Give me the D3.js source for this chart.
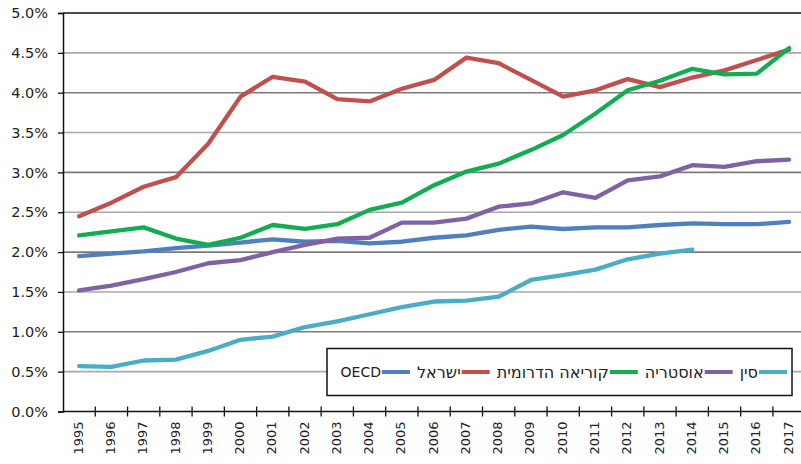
<!DOCTYPE html>
<html>
<head>
<meta charset="utf-8">
<script src="https://cdn.jsdelivr.net/npm/d3@7"></script>
<style>
  html, body { margin: 0; padding: 0; background: #fff; }
  svg { display: block; }
  text { font-family: "DejaVu Sans", Verdana, sans-serif; fill: #222; }
</style>
</head>
<body>
<svg id="chart" width="801" height="464"></svg>
<script>
// ---- data ----
const years = ["1995","1996","1997","1998","1999","2000","2001","2002","2003","2004","2005","2006","2007","2008","2009","2010","2011","2012","2013","2014","2015","2016","2017"];
const oecd    = [1.95,1.98,2.01,2.05,2.08,2.12,2.16,2.13,2.14,2.11,2.13,2.18,2.21,2.28,2.32,2.29,2.31,2.31,2.34,2.36,2.35,2.35,2.38];
const israel  = [2.45,2.62,2.82,2.94,3.36,3.95,4.20,4.14,3.92,3.89,4.05,4.16,4.44,4.37,4.16,3.95,4.03,4.17,4.07,4.19,4.28,4.41,4.54];
const korea   = [2.21,2.26,2.31,2.17,2.09,2.18,2.34,2.29,2.35,2.53,2.62,2.84,3.01,3.11,3.28,3.47,3.74,4.03,4.15,4.30,4.23,4.24,4.56];
const austria = [1.52,1.58,1.66,1.75,1.86,1.90,2.00,2.09,2.17,2.18,2.37,2.37,2.42,2.57,2.61,2.75,2.68,2.90,2.95,3.09,3.07,3.14,3.16];
const china   = [0.57,0.56,0.64,0.65,0.76,0.90,0.94,1.06,1.13,1.22,1.31,1.38,1.39,1.44,1.65,1.71,1.78,1.91,1.98,2.03];
const seriesNames = ["OECD","ישראל","קוריאה הדרומית","אוסטריה","סין"];
const seriesValues = [oecd, israel, korea, austria, china];
const seriesColors = ["#4f7fbf","#c0504d","#12ad50","#7f62a3","#4bacc6"];
const yTicks = [0,0.5,1,1.5,2,2.5,3,3.5,4,4.5,5];

// ---- layout ----
const svg = d3.select("#chart");
const plotLeft = 63, plotTop = 13, plotBottom = 411.5, step = 32.27;
const x = d3.scaleBand().domain(years).range([plotLeft, plotLeft + step * years.length]).padding(0);
const y = d3.scaleLinear().domain([0, 5]).range([plotBottom, plotTop]);
const cx = d => x(d) + x.bandwidth() / 2;

// gridlines
svg.append("g").selectAll("line").data(yTicks.filter(t => t > 0 && t < 5)).join("line")
  .attr("x1", plotLeft).attr("x2", 801)
  .attr("y1", d => y(d)).attr("y2", d => y(d))
  .attr("stroke", d => (Math.round(d * 2) % 2 === 0) ? "#7a7a7a" : "#a8a8a8")
  .attr("stroke-width", 1.6);

// top border
svg.append("line").attr("x1", plotLeft).attr("x2", 801).attr("y1", y(5)).attr("y2", y(5))
  .attr("stroke", "#111").attr("stroke-width", 1.5);

// y axis
const yAxis = d3.axisLeft(y).tickValues(yTicks).tickSize(5).tickPadding(10)
  .tickFormat(d => d3.format(".1f")(d) + "%");
const gy = svg.append("g").attr("transform", `translate(${plotLeft},0)`).call(yAxis);
gy.select(".domain").attr("stroke", "#111").attr("stroke-width", 1.5);
gy.selectAll(".tick line").attr("stroke", "#111").attr("stroke-width", 1.3);
gy.selectAll(".tick text").attr("font-size", 14.5).attr("fill", "#222")
  .attr("font-family", "DejaVu Sans, Verdana, sans-serif");

// x axis
const gx = svg.append("g");
gx.append("line").attr("x1", plotLeft).attr("x2", 801).attr("y1", plotBottom).attr("y2", plotBottom)
  .attr("stroke", "#111").attr("stroke-width", 1.5);
gx.selectAll("line.tk").data(years.slice(1)).join("line").attr("class", "tk")
  .attr("x1", d => x(d)).attr("x2", d => x(d))
  .attr("y1", plotBottom - 5).attr("y2", plotBottom + 5)
  .attr("stroke", "#111").attr("stroke-width", 1.3);
gx.selectAll("text").data(years).join("text")
  .attr("transform", d => `translate(${cx(d) - 1},${plotBottom + 10}) rotate(-90)`)
  .attr("text-anchor", "end").attr("dy", "0.35em")
  .attr("font-size", 13).text(d => d);

// lines
const line = d3.line().x((d, i) => cx(years[i])).y(d => y(d));
svg.append("g").selectAll("path").data(seriesValues).join("path")
  .attr("d", d => line(d))
  .attr("fill", "none")
  .attr("stroke", (d, i) => seriesColors[i])
  .attr("stroke-width", 4.3)
  .attr("stroke-linejoin", "round")
  .attr("stroke-linecap", "round");

// legend
const lg = svg.append("g");
lg.append("rect").attr("x", 327).attr("y", 348.5).attr("width", 465).attr("height", 47)
  .attr("fill", "#fff").attr("stroke", "#111").attr("stroke-width", 1.5);
let xr = 787;
const ly = 372;
for (let i = seriesNames.length - 1; i >= 0; i--) {
  const hebrew = /[\u0590-\u05FF]/.test(seriesNames[i]);
  lg.append("line").attr("x1", xr - 28).attr("x2", xr).attr("y1", ly).attr("y2", ly)
    .attr("stroke", seriesColors[i]).attr("stroke-width", 4);
  const t = lg.append("text").attr("x", xr - 29).attr("y", ly).attr("dy", "0.35em")
    .attr("text-anchor", "end")
    .attr("font-family", hebrew ? "Liberation Sans, Arial, sans-serif" : "DejaVu Sans, Verdana, sans-serif")
    .attr("font-size", hebrew ? 16 : 14).attr("fill", "#111").text(seriesNames[i]);
  const w = t.node().getComputedTextLength();
  xr = xr - 29 - w - 7;
}
</script>
</body>
</html>
